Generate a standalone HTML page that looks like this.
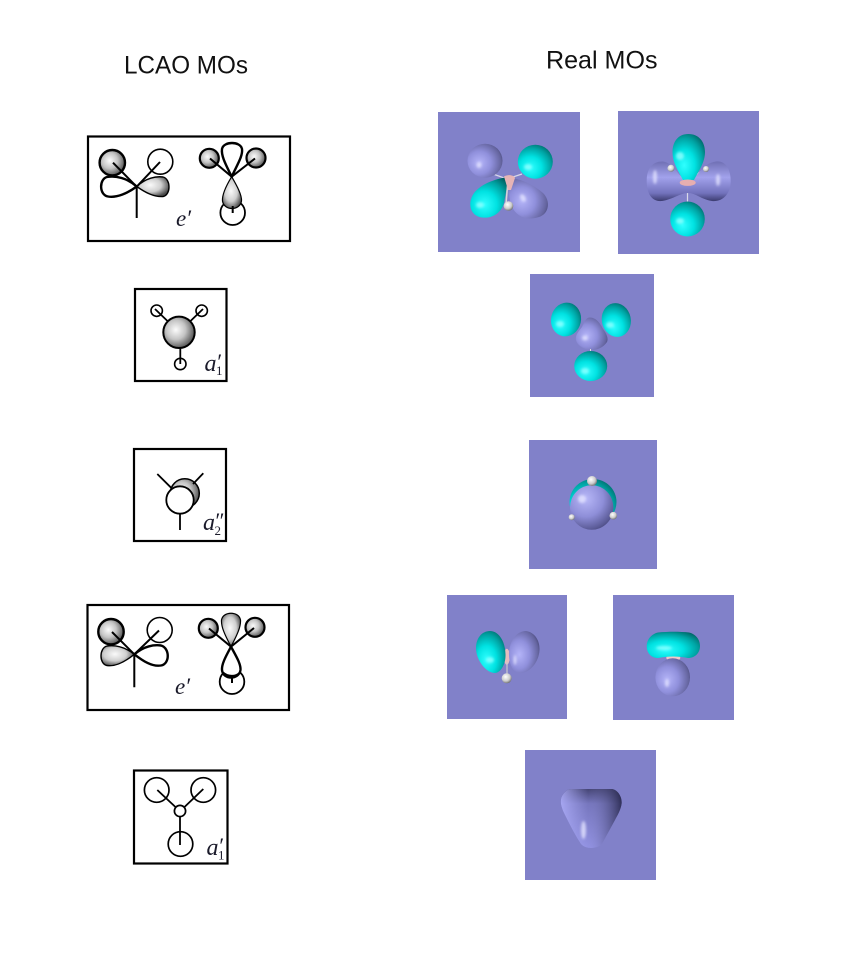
<!DOCTYPE html>
<html>
<head>
<meta charset="utf-8">
<style>
html,body{margin:0;padding:0;background:#fff;}
svg{display:block;}
</style>
</head>
<body>
<svg width="864" height="975" viewBox="0 0 864 975" xmlns="http://www.w3.org/2000/svg">
<defs>
<radialGradient id="g" cx=".4" cy=".42" r=".62"><stop offset="0" stop-color="#fcfcfc"/><stop offset=".5" stop-color="#c4c4c4"/><stop offset="1" stop-color="#505050"/></radialGradient>
<radialGradient id="gh" cx=".42" cy=".42" r=".62"><stop offset="0" stop-color="#fafafa"/><stop offset=".55" stop-color="#cfcfcf"/><stop offset="1" stop-color="#484848"/></radialGradient>
<radialGradient id="gv" cx=".45" cy=".45" r=".6"><stop offset="0" stop-color="#fafafa"/><stop offset=".55" stop-color="#cfcfcf"/><stop offset="1" stop-color="#484848"/></radialGradient>
<radialGradient id="c" cx=".36" cy=".68" r=".82"><stop offset="0" stop-color="#30ffff"/><stop offset=".4" stop-color="#00e2e2"/><stop offset=".72" stop-color="#00a2a2"/><stop offset="1" stop-color="#005a5a"/></radialGradient>
<radialGradient id="l" cx=".34" cy=".56" r=".8"><stop offset="0" stop-color="#b4b4f8"/><stop offset=".42" stop-color="#9090dc"/><stop offset=".78" stop-color="#64649e"/><stop offset="1" stop-color="#30305a"/></radialGradient>
<radialGradient id="l2" cx=".36" cy=".3" r=".82"><stop offset="0" stop-color="#b8b8f8"/><stop offset=".5" stop-color="#8e8ed8"/><stop offset=".85" stop-color="#5a5a96"/><stop offset="1" stop-color="#3e3e70"/></radialGradient>
<linearGradient id="bar" x1="0" y1="0" x2="0" y2="1"><stop offset="0" stop-color="#7070b4"/><stop offset=".4" stop-color="#a2a2ec"/><stop offset=".8" stop-color="#7272bc"/><stop offset="1" stop-color="#3c3c70"/></linearGradient>
<radialGradient id="w" cx=".4" cy=".35" r=".7"><stop offset="0" stop-color="#fff"/><stop offset=".6" stop-color="#ccc"/><stop offset="1" stop-color="#666"/></radialGradient>
<linearGradient id="tri" x1="0" y1="0" x2="0" y2="1"><stop offset="0" stop-color="#2c2c54"/><stop offset=".25" stop-color="#6a6ab0"/><stop offset="1" stop-color="#8c8cdc"/></linearGradient>
<linearGradient id="tri2" x1="0" y1="0" x2="1" y2="0"><stop offset="0" stop-color="#b0b0fc" stop-opacity=".85"/><stop offset=".45" stop-color="#a8a8f4" stop-opacity=".2"/><stop offset="1" stop-color="#222244" stop-opacity=".8"/></linearGradient>
<filter id="b"><feGaussianBlur stdDeviation="1.2"/></filter>
</defs>

<g font-family="'Liberation Sans',sans-serif" font-size="25" fill="#111">
<text x="124" y="73.500" textLength="124" lengthAdjust="spacingAndGlyphs">LCAO MOs</text>
<text x="546" y="68.500" textLength="111.500" lengthAdjust="spacingAndGlyphs">Real MOs</text>
</g>

<!-- LCAO panels -->
<g fill="none" stroke="#000">
<!-- box 1 -->
<rect x="88" y="136.500" width="202" height="104.500" stroke-width="2.200"/>
<circle cx="112.300" cy="162.700" r="12.700" fill="url(#g)" stroke-width="2.400"/>
<circle cx="160.300" cy="161.700" r="12.500" fill="#fff" stroke-width="1.600"/>
<path d="M136.700 186.500C127 178 116 175.500 107 177C99 179 99 195 108 196.500C117 198 128 193 136.700 186.500Z" stroke-width="2.400" fill="#fff"/>
<path d="M136.700 186.500C146 178 156 176 163 177C171 179 171 195 163 196.500C154 197 146 193 136.700 186.500Z" fill="url(#gh)" stroke-width="1.400"/>
<path d="M113 162.700L136.700 186.700L160 162M136.700 186.700V218" stroke-width="2"/>
<circle cx="209.300" cy="158.300" r="9.500" fill="url(#g)" stroke-width="2.200"/>
<circle cx="256" cy="158" r="9.500" fill="url(#g)" stroke-width="2.200"/>
<circle cx="232.700" cy="212.700" r="12.300" fill="#fff" stroke-width="1.800"/>
<path d="M231.700 176.700C226 165 221 156 222 149C223.500 141 240.500 141 242 149C243 156 237 165 231.700 176.700Z" fill="#fff" stroke-width="2.400"/>
<path d="M231.700 176.700C226 186 222 195 222.500 201C224 211 240 211 241.500 201C242 195 237 186 231.700 176.700Z" fill="url(#gv)" stroke-width="1.200"/>
<path d="M210 158.500L231.700 176.700L255 158.500M232.700 206V213" stroke-width="2"/>

<!-- box 2 -->
<rect x="135" y="289" width="91.500" height="92" stroke-width="2.200"/>
<circle cx="179" cy="332.300" r="15.700" fill="url(#g)" stroke-width="2"/>
<circle cx="156.700" cy="310.700" r="5.700" fill="#fff" stroke-width="1.600"/>
<circle cx="201.700" cy="310.700" r="5.700" fill="#fff" stroke-width="1.600"/>
<circle cx="180.300" cy="364" r="5.700" fill="#fff" stroke-width="1.600"/>
<path d="M155 309L168 321.500M203 309L190 321.500M180.300 348V364" stroke-width="1.800"/>

<!-- box 3 -->
<rect x="134" y="449" width="92" height="92" stroke-width="2.200"/>
<circle cx="184.800" cy="493.300" r="14.500" fill="url(#g)" stroke-width="1.500"/>
<circle cx="180" cy="500" r="13.700" fill="#fff" stroke-width="1.800"/>
<path d="M157.300 474L171.700 488.300M203.300 473.300L193 484M180 513.700V530" stroke-width="1.800"/>

<!-- box 4 -->
<rect x="87.500" y="605" width="201.500" height="105" stroke-width="2.200"/>
<circle cx="111" cy="631.700" r="12.700" fill="url(#g)" stroke-width="2.400"/>
<circle cx="159.700" cy="630" r="12.500" fill="#fff" stroke-width="1.600"/>
<path d="M134.300 654.300C125 647 115 645 107 646C99 648 99 664 107 665.500C116 667 126 661 134.300 654.300Z" fill="url(#gh)" stroke-width="1.400"/>
<path d="M134.300 654.300C144 646 154 644.500 161 645.500C170 648 170 664 161 665.500C152 667 143 661 134.300 654.300Z" fill="#fff" stroke-width="2.400"/>
<path d="M112 632L134.300 654.300L159 630.500M134.300 654.300V687.300" stroke-width="2"/>
<circle cx="208.300" cy="628.300" r="9.500" fill="url(#g)" stroke-width="2.200"/>
<circle cx="255" cy="627.300" r="9.500" fill="url(#g)" stroke-width="2.200"/>
<circle cx="232" cy="681.700" r="12.300" fill="#fff" stroke-width="1.800"/>
<path d="M231 646.700C225 635 221 627 221.500 620C223 611 239 611 240.500 620C241 627 237 635 231 646.700Z" fill="url(#gv)" stroke-width="1.200"/>
<path d="M231 646.700C226 656 221.500 664 222 670C223 680 239 680 240.500 670C241 664 236 656 231 646.700Z" fill="#fff" stroke-width="2.400"/>
<path d="M209 628.500L231 646.700L254 628M232 678V683M223 672.500C228 677 236 677 240 672.500" stroke-width="2"/>

<!-- box 5 -->
<rect x="134" y="770.500" width="93.500" height="93" stroke-width="2.200"/>
<circle cx="156.700" cy="790" r="12.300" stroke-width="1.700"/>
<circle cx="203.300" cy="790" r="12.300" stroke-width="1.700"/>
<circle cx="180.500" cy="844" r="12.300" stroke-width="1.700"/>
<circle cx="180" cy="811" r="5.600" fill="#fff" stroke-width="1.700"/>
<path d="M157.300 790L176 807.500M203.300 789L184.500 807M180 816.500V845" stroke-width="1.800"/>
</g>

<!-- Labels -->
<g font-family="'Liberation Serif',serif" fill="#1a1a2a">
<text x="176" y="226" font-size="23" font-style="italic">e</text><text x="186" y="226" font-size="23" font-style="italic">′</text>
<text x="175" y="694" font-size="23" font-style="italic">e</text><text x="185" y="694" font-size="23" font-style="italic">′</text>
<text x="204.500" y="371" font-size="24" font-style="italic">a</text><text x="216" y="369" font-size="22" font-style="italic">′</text><text x="216" y="375" font-size="13">1</text>
<text x="203" y="530" font-size="24" font-style="italic">a</text><text x="214" y="528" font-size="22" font-style="italic">″</text><text x="214.500" y="535" font-size="13">2</text>
<text x="206.500" y="855" font-size="24" font-style="italic">a</text><text x="218" y="853" font-size="22" font-style="italic">′</text><text x="218" y="859.500" font-size="13">1</text>
</g>

<!-- Real MO panels -->
<g fill="#8181c9">
<rect x="438" y="112" width="142" height="140"/>
<rect x="618" y="111" width="141" height="143"/>
<rect x="530" y="274" width="124" height="123"/>
<rect x="529" y="440" width="128" height="129"/>
<rect x="447" y="595" width="120" height="124"/>
<rect x="613" y="595" width="121" height="125"/>
<rect x="525" y="750" width="131" height="130"/>
</g>

<!-- panel 1 -->
<path d="M493 174L507 179L522 174" fill="none" stroke="#d8d8e8" stroke-width="1.200"/>
<ellipse cx="485" cy="160.700" rx="17.500" ry="17" fill="url(#l)"/>
<ellipse cx="535.300" cy="161.700" rx="17.500" ry="17" fill="url(#c)"/>
<path d="M510 178C519 178 534 185 543 193C551 201 549 214 539 217C527 221 517 217 512 207C509 200 508 188 510 178Z" fill="url(#l)"/>
<path d="M509 177C498 178 482 183 474 193C467 203 470 216 482 217.500C494 219 502 211 504 203C506 193 507 185 509 177Z" fill="url(#c)"/>
<path d="M507.500 186L506 204" stroke="#d8d8d8" stroke-width="1.500"/>
<path d="M504 176.500C508 174 514 175 515 178L511 190L508 190Z" fill="#e6b4b6"/>
<circle cx="508.500" cy="206" r="4.800" fill="url(#w)"/>

<!-- panel 2 -->
<path d="M671 168L686 182L706 168M687.500 190V204" fill="none" stroke="#d8d8e8" stroke-width="1.200"/>
<path d="M646.700 180C647 167 654 161 663 161.500C675 163 680 180 688 182C696 180 702 163 716 161.500C726 160.500 731 170 730.700 182C730 195 722 202 712 201C700 199 696 193 688 193C680 193 674 199 662 201C652 202 646.500 194 646.700 180Z" fill="url(#bar)"/>
<path d="M688.300 134C699 134 705 142 705 152C705 163 698 172 694 180H683C679 172 672.500 163 672.500 152C672.500 142 678 134 688.300 134Z" fill="url(#c)"/>
<ellipse cx="687.500" cy="219" rx="17.300" ry="17.500" fill="url(#c)"/>
<ellipse cx="687.700" cy="182.700" rx="8" ry="3.200" fill="#e6aeb0"/>
<circle cx="671" cy="168.300" r="3.500" fill="url(#w)"/>
<circle cx="706" cy="169" r="3" fill="url(#w)"/>

<!-- panel 3 -->
<ellipse cx="566" cy="319.500" rx="15" ry="17" transform="rotate(12 566 319.500)" fill="url(#c)"/>
<ellipse cx="616.300" cy="320" rx="14.500" ry="17" transform="rotate(-12 616.300 320)" fill="url(#c)"/>
<path d="M590 317.500C596 317.500 600 323 603 329C607 334 608.500 339 607 342C603 348 596 350.500 590 350C583 349 577 345 576 340C575 335 579 331 582 327C585 321 586 317.500 590 317.500Z" fill="url(#l)"/>
<path d="M590.500 349V352" stroke="#ddd" stroke-width="1"/>
<ellipse cx="590.700" cy="366" rx="16.500" ry="15" fill="url(#c)"/>

<!-- panel 4 -->
<ellipse cx="593" cy="502" rx="23.500" ry="23" fill="url(#c)"/>
<ellipse cx="591.700" cy="507.500" rx="21.700" ry="22.300" fill="url(#l2)"/>
<circle cx="592" cy="481" r="5" fill="url(#w)"/>
<circle cx="613.300" cy="515.700" r="3.800" fill="url(#w)"/>
<circle cx="571.700" cy="517.300" r="3" fill="url(#w)"/>

<!-- panel 5 -->
<ellipse cx="506.800" cy="656.700" rx="3" ry="8" fill="#e6bcbe"/>
<path d="M507 662V677" stroke="#c8c8d0" stroke-width="1.200"/>
<path d="M490 631C498 631 505 640 505.500 654C506 665 500 673 495 673C486 673 476 660 476 648C476 638 482 631 490 631Z" fill="url(#c)"/>
<path d="M526 631C534 632 540 640 539.500 650C539 662 530 673 520 673C512 673 508.500 662 509 652C510 640 517 631 526 631Z" fill="url(#l)"/>
<circle cx="506.700" cy="678.300" r="5" fill="url(#w)"/>

<!-- panel 6 -->
<ellipse cx="673.300" cy="657.700" rx="7" ry="3.500" fill="#f0c8c8"/>
<ellipse cx="672.700" cy="677.300" rx="17.300" ry="19" fill="url(#l)"/>
<path d="M658 632.500C668 631.500 680 631.500 689 632.500C696 634 700 640 700 646C700 653 695 658 688 658C678 656 668 656 658 658C651 658 646.700 653 646.700 646C646.700 640 651 634 658 632.500Z" fill="url(#c)"/>

<!-- panel 7 -->
<path id="t7" d="M571 789H612C618 790 622 797 621.700 803C621 810 617 816 615 820L603 842C600 849 586 850 581 844C575 835 570 825 565 815C561 807 559.500 801 562 796C565 791 568 789 571 789Z" fill="url(#tri)"/>
<path d="M571 789H612C618 790 622 797 621.700 803C621 810 617 816 615 820L603 842C600 849 586 850 581 844C575 835 570 825 565 815C561 807 559.500 801 562 796C565 791 568 789 571 789Z" fill="url(#tri2)"/>

<!-- highlights -->
<g filter="url(#b)" fill="#e4e4ff" opacity=".8">
<ellipse cx="479" cy="165" rx="2.500" ry="3"/>
<ellipse cx="523" cy="198" rx="2.500" ry="4" transform="rotate(-30 523 198)"/>
<ellipse cx="655" cy="177" rx="2" ry="7"/>
<ellipse cx="718" cy="180" rx="2" ry="6"/>
<ellipse cx="585" cy="338" rx="3" ry="2.500"/>
<ellipse cx="582" cy="499" rx="4" ry="4"/>
<ellipse cx="515" cy="660" rx="1.500" ry="5"/>
<ellipse cx="667" cy="683" rx="2" ry="4"/>
<ellipse cx="583.500" cy="830" rx="2.500" ry="9"/>
</g>
<g filter="url(#b)" fill="#90ffff" opacity=".8">
<ellipse cx="528" cy="167" rx="4" ry="3"/>
<ellipse cx="480" cy="205" rx="4" ry="3"/>
<ellipse cx="680" cy="221" rx="4" ry="3"/>
<ellipse cx="680" cy="156" rx="4" ry="4"/>
<ellipse cx="560" cy="324" rx="4" ry="3"/>
<ellipse cx="610" cy="325" rx="4" ry="3"/>
<ellipse cx="585" cy="371" rx="4" ry="3"/>
<ellipse cx="490" cy="660" rx="4" ry="3"/>
<ellipse cx="664" cy="648" rx="8" ry="2"/>
</g>
</svg>
</body>
</html>
